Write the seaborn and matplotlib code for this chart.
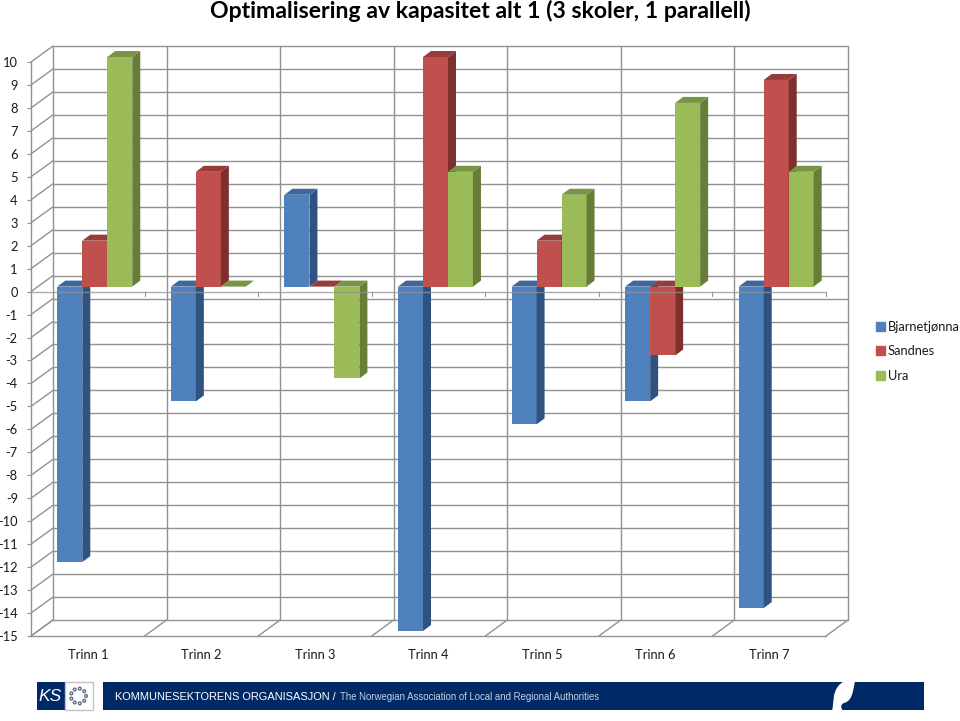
import numpy as np
import pandas as pd
import matplotlib
matplotlib.use('Agg')
import matplotlib.pyplot as plt
import seaborn as sns
from matplotlib.patches import Polygon, Rectangle, Circle, PathPatch, Patch
from matplotlib.path import Path

# Values
trinn = ['Trinn 1', 'Trinn 2', 'Trinn 3', 'Trinn 4', 'Trinn 5', 'Trinn 6', 'Trinn 7']
bjarnetjonna = [-12, -5, 4, -15, -6, -5, -14]
sandnes = [2, 5, 0, 10, 2, -3, 9]
ura = [10, 0, -4, 5, 4, 8, 5]
skoler = ['Bjarnetjønna', 'Sandnes', 'Ura']

front = ['#4f81bd', '#c0504d', '#9bbb59']
side = ['#2f5280', '#7f2f2d', '#677d38']
top = ['#3c689e', '#963c3a', '#7a9446']
grid = '#929292'

df = pd.DataFrame({'Trinn': trinn, skoler[0]: bjarnetjonna, skoler[1]: sandnes, skoler[2]: ura})
df = df.melt(id_vars='Trinn', var_name='Skole', value_name='Plasser')

sns.set_style('white')
plt.rcParams['font.family'] = ['Lato', 'DejaVu Sans']
plt.rcParams['axes.unicode_minus'] = False

fig = plt.figure(figsize=(9.6, 7.21), dpi=100)
ax = fig.add_axes([31 / 960, 1 - 636 / 721, 795 / 960, 574 / 721])
ax.patch.set_alpha(0)

sns.barplot(data=df, x='Trinn', y='Plasser', hue='Skole', hue_order=skoler, palette=front,
            width=0.66, gap=0, saturation=1, legend=False, ax=ax)
ax.set_xlim(-0.5, 6.5)
ax.set_ylim(-15, 10)

# data units per pixel, used for the fake 3D depth
ux = 7 / 795
uy = 25 / 574
wall_x, wall_y = 22 * ux, 16 * uy
bar_x, bar_y = 7 * ux, 5 * uy
deep_x, deep_y = 8 * ux, 6 * uy

# Back wall and left wall
for v in range(-15, 11):
    ax.plot([-0.5 + wall_x, 6.5 + wall_x], [v + wall_y, v + wall_y], color=grid, lw=1.0, zorder=0.5, clip_on=False)
    ax.plot([-0.5, -0.5 + wall_x], [v, v + wall_y], color=grid, lw=1.0, zorder=0.5, clip_on=False)
for i in range(8):
    ax.plot([i - 0.5 + wall_x] * 2, [-15 + wall_y, 10 + wall_y], color=grid, lw=1.0, zorder=0.5, clip_on=False)
    ax.plot([i - 0.5, i - 0.5 + wall_x], [-15, -15 + wall_y], color=grid, lw=1.0, zorder=0.5, clip_on=False)

# Bars, one series at a time so the next series covers the side of the last
for n, bars in enumerate(ax.containers):
    for p in bars:
        p.set_x(p.get_x() + bar_x)
        p.set_y(p.get_y() + bar_y)
        p.set_edgecolor('none')
        p.set_zorder(3 + n)
        p.set_clip_on(False)
        x0, x1 = p.get_x(), p.get_x() + p.get_width()
        y0, y1 = sorted([p.get_y(), p.get_y() + p.get_height()])
        ax.add_patch(Polygon([(x1, y0), (x1 + deep_x, y0 + deep_y), (x1 + deep_x, y1 + deep_y), (x1, y1)],
                             color=side[n], lw=0, zorder=3 + n, clip_on=False))
        ax.add_patch(Polygon([(x0, y1), (x0 + deep_x, y1 + deep_y), (x1 + deep_x, y1 + deep_y), (x1, y1)],
                             color=top[n], lw=0, zorder=3 + n, clip_on=False))

# Zero line with its ticks sits in front of the bars
ax.plot([-0.5, 6.5], [0, 0], color=grid, lw=1.0, alpha=0.75, zorder=8, clip_on=False)
for i in range(1, 8):
    ax.plot([i - 0.5, i - 0.5], [0, -4 * uy], color=grid, lw=0.8, zorder=2, clip_on=False)

sns.despine(ax=ax)
for s in ['left', 'bottom']:
    ax.spines[s].set_color(grid)
    ax.spines[s].set_linewidth(1.0)
ax.set_yticks(range(-15, 11))
ax.tick_params(axis='y', length=3, width=0.8, color=grid, pad=6.5, labelsize=9.3, left=True)
ax.tick_params(axis='x', length=0, pad=9.5, labelsize=9.3)
for t in ax.get_yticklabels() + ax.get_xticklabels():
    t.set_color('#1a1a1a')
ax.set_xlabel('')
ax.set_ylabel('')

handles = [Patch(color=c, label=s) for c, s in zip(front, skoler)]
fig.legend(handles=handles, loc='upper left', bbox_to_anchor=(876 / 960, 1 - 321 / 721), frameon=False,
           fontsize=9.3, handlelength=0.68, handleheight=0.68, handletextpad=0.25, labelspacing=0.96,
           borderpad=0, borderaxespad=0, labelcolor='#1a1a1a')

fig.text(480 / 960, 1 - 11 / 721, 'Optimalisering av kapasitet alt 1 (3 skoler, 1 parallell)',
         ha='center', va='center', fontsize=16.6, fontweight='bold', color='black')

# Footer banner, drawn in pixel coordinates
foot = fig.add_axes([0, 0, 1, 1], zorder=-1)
foot.set_xlim(0, 960)
foot.set_ylim(721, 0)
foot.axis('off')
navy = '#002a66'
foot.add_patch(Rectangle((36.5, 682), 28, 28, color=navy, lw=0))
foot.add_patch(Rectangle((65, 682), 28, 28, facecolor='white', edgecolor='#c4c4c4', lw=1))
foot.add_patch(Rectangle((103, 682), 821, 28, color=navy, lw=0))
foot.text(50.5, 696.5, 'KS', color='white', fontsize=12.5, style='italic', ha='center', va='center',
          family='Liberation Sans')
for a in np.arange(0, 2 * np.pi, 2 * np.pi / 9):
    foot.add_patch(Circle((78.5 + 7.5 * np.cos(a), 696 + 7.5 * np.sin(a)), 1.4, facecolor='white',
                          edgecolor='#55637c', lw=0.9))
swoosh = Path([(845, 681), (838, 684), (835, 690), (834, 696), (833, 703), (833, 707), (832, 711),
               (843, 711), (840, 707), (841, 704), (844, 703), (852, 701), (853, 692), (855, 681), (845, 681)],
              [Path.MOVETO, Path.CURVE4, Path.CURVE4, Path.CURVE4, Path.CURVE4, Path.CURVE4, Path.CURVE4,
               Path.LINETO, Path.CURVE4, Path.CURVE4, Path.CURVE4, Path.CURVE4, Path.CURVE4, Path.CURVE4,
               Path.CLOSEPOLY])
foot.add_patch(PathPatch(swoosh, facecolor='white', edgecolor='none'))
foot.text(115, 697, 'KOMMUNESEKTORENS ORGANISASJON /', color='white', fontsize=7.9, va='center',
          family='Liberation Sans')
foot.text(339.5, 697, 'The Norwegian Association of Local and Regional Authorities', color='#c6cfdf',
          fontsize=6.9, va='center', family='Liberation Sans')

fig.savefig('out.png', dpi=100)
